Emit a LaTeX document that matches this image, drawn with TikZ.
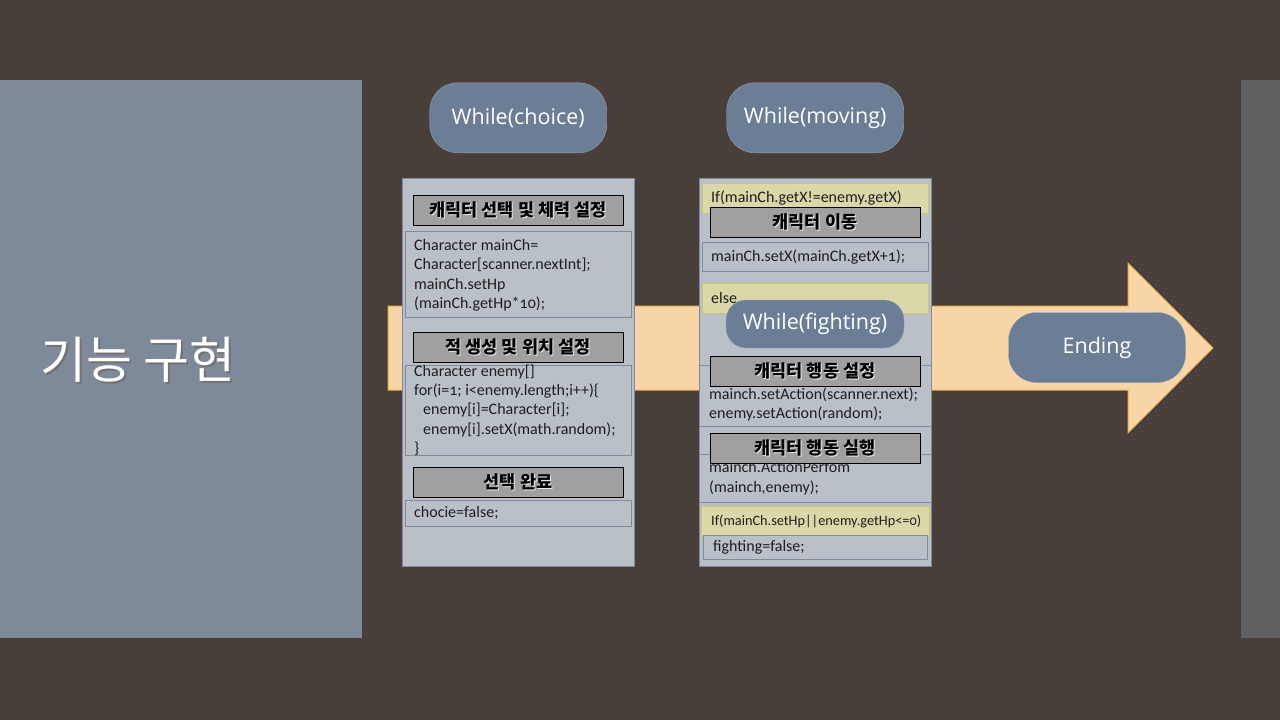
\documentclass[tikz,border=0pt]{standalone}
\usepackage{fontspec}
\setmainfont{Carlito}[Numbers=OldStyle]
\newfontfamily\krfont{Noto Sans CJK KR}
\newfontfamily\btnfont{Open Sans}
\usetikzlibrary{positioning}

\definecolor{slidebg}{RGB}{72,62,58}
\definecolor{leftpane}{RGB}{126,138,153}
\definecolor{rightpane}{RGB}{96,96,98}
\definecolor{arrowfill}{RGB}{248,213,166}
\definecolor{arrowline}{RGB}{240,176,70}
\definecolor{btnfill}{RGB}{108,126,149}
\definecolor{btnline}{RGB}{150,162,178}
\definecolor{colfill}{RGB}{185,192,200}
\definecolor{colline}{RGB}{128,138,154}
\definecolor{headfill}{RGB}{160,160,160}
\definecolor{condfill}{RGB}{218,216,168}
\definecolor{condline}{RGB}{205,198,110}
\definecolor{codeink}{RGB}{30,30,30}

% text with a small drop shadow
\newcommand\shadtxt[3][1pt]{\makebox[0pt][l]{\raisebox{-#1}{\hspace{#1}\textcolor{#2}{#3}}}#3}

\tikzset{
  whilebtn/.style={draw=btnline, fill=btnfill, rounded corners=28pt, minimum width=177pt,
    minimum height=70pt, text=white, font=\btnfont\fontsize{21.5}{25}\selectfont},
  column/.style={draw=colline, fill=colfill, anchor=north west, minimum width=232pt,
    minimum height=388pt, inner sep=0pt},
  head/.style={draw=black, fill=headfill, minimum width=210pt, minimum height=30pt,
    inner sep=0pt, font=\krfont\bfseries\fontsize{17.5}{19}\selectfont},
  codebox/.style={draw=colline, fill=colfill, anchor=north west, inner sep=0pt},
  condbox/.style={draw=condline, fill=condfill, anchor=north west, inner sep=0pt},
  codetext/.style={align=left, inner sep=0pt, text=codeink, font=\fontsize{16}{19.3}\selectfont}
}

\begin{document}
\begin{tikzpicture}[x=1pt,y=-1pt]
\fill[slidebg] (0,0) rectangle (1280,720);
\useasboundingbox (0,0) rectangle (1280,720);
\fill[leftpane] (0,80) rectangle (362,638);
\fill[rightpane] (1241,80) rectangle (1280,638);
\node[text=white, font=\krfont\fontsize{50}{54}\selectfont] (title) at (138,361) {\shadtxt[2pt]{black!55}{기능 구현}};

% big arrow
\draw[arrowline, fill=arrowfill, line width=1pt] (388,306) -- (1128,306) -- (1128,263) -- (1213,348)
  -- (1128,433) -- (1128,390) -- (388,390) -- cycle;
\node[whilebtn] (ending) at (1097,347.5) {Ending};

% choice loop
\node[column] (choicecol) at (402,178) {};
\node[whilebtn, above=25pt of choicecol] (choice) {While(choice)};

\node[head] (pick) at (518,210) {\shadtxt{white!85!gray}{캐릭터 선택 및 체력 설정}};
\node[codebox, minimum width=226pt, minimum height=86pt] (pickbox) at (405,231) {};
\node[codetext, right=9pt of pickbox.west, yshift=-1pt] (pickcode)
  {Character mainCh=\\Character[scanner.nextInt];\\mainCh.setHp\\(mainCh.getHp*10);};

\node[head] (spawn) at (518,347) {\shadtxt{white!85!gray}{적 생성 및 위치 설정}};
\node[codebox, minimum width=226pt, minimum height=90pt] (spawnbox) at (405,365) {};
\node[codetext, right=9pt of spawnbox.west] (spawncode)
  {Character enemy[]\\for(i=1; i<enemy.length;i++)\{\\\hspace*{9pt}enemy[i]=Character[i];\\
   \hspace*{9pt}enemy[i].setX(math.random);\\\}};

\node[head] (done) at (518,482) {\shadtxt{white!85!gray}{선택 완료}};
\node[codebox, minimum width=226pt, minimum height=26pt] (donebox) at (405,500) {};
\node[codetext, right=9pt of donebox.west] (donecode) {chocie=false;};

% moving loop
\node[column] (movecol) at (699,178) {};
\node[whilebtn, above=25pt of movecol] (moving) {While(moving)};

\node[condbox, minimum width=226pt, minimum height=30pt] (ifbox) at (702,183) {};
\node[codetext, right=9pt of ifbox.west] (ifcode) {If(mainCh.getX!=enemy.getX)};
\node[head] (move) at (815,222) {\shadtxt{white!85!gray}{캐릭터 이동}};
\node[codebox, minimum width=226pt, minimum height=29pt] (stepbox) at (702,242) {};
\node[codetext, right=9pt of stepbox.west] (stepcode) {mainCh.setX(mainCh.getX+1);};
\node[condbox, minimum width=226pt, minimum height=30pt] (elsebox) at (702,283) {};
\node[codetext, right=9pt of elsebox.west] (elsecode) {else};

\node[whilebtn, minimum width=178pt, minimum height=48pt, rounded corners=20pt] (fighting) at (815,324) {While(fighting)};

\node[codebox, minimum width=232pt, minimum height=61pt] (actbox) at (699,365) {};
\node[codetext, right=10pt of actbox.west, yshift=-9pt] (actcode)
  {mainch.setAction(scanner.next);\\enemy.setAction(random);};
\node[head] (act) at (815,371) {\shadtxt{white!85!gray}{캐릭터 행동 설정}};

\node[codebox, minimum width=232pt, minimum height=48pt] (runbox) at (699,454) {};
\node[codetext, right=10pt of runbox.west] (runcode) {mainch.ActionPerfom\\(mainch,enemy);};
\node[head] (run) at (815,448) {\shadtxt{white!85!gray}{캐릭터 행동 실행}};

\node[condbox, minimum width=228pt, minimum height=30pt] (endbox) at (701,506) {};
\node[codetext, right=10pt of endbox.west, font=\fontsize{14.3}{16}\selectfont] (endcode) {If(mainCh.setHp||enemy.getHp<=0)};
\node[codebox, minimum width=224pt, minimum height=24pt] (stopbox) at (703,535) {};
\node[codetext, right=10pt of stopbox.west] (stopcode) {fighting=false;};
\end{tikzpicture}
\end{document}
